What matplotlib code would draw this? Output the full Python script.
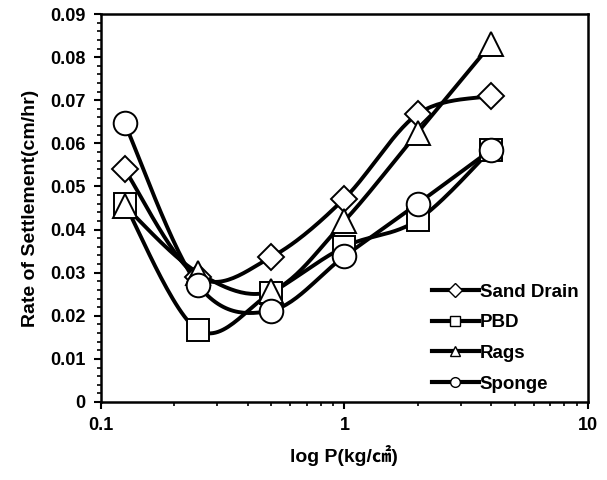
import numpy as np
import matplotlib
matplotlib.use("Agg")
import matplotlib.pyplot as plt
from matplotlib.lines import Line2D
from matplotlib.ticker import MultipleLocator, LogLocator, FixedLocator, FixedFormatter

# data
pressure = [0.125, 0.25, 0.5, 1, 2, 4]
sand_drain = [0.054, 0.029, 0.0336, 0.0472, 0.0668, 0.0710]
pbd = [0.0460, 0.0167, 0.0253, 0.0360, 0.0422, 0.0585]
rags = [0.0455, 0.0300, 0.0257, 0.0420, 0.0625, 0.0830]
sponge = [0.0647, 0.0272, 0.0212, 0.0338, 0.0460, 0.0585]

series = [
    ("Sand Drain", sand_drain, "D", 13),
    ("PBD", pbd, "s", 16),
    ("Rags", rags, "^", 17),
    ("Sponge", sponge, "o", 17),
]

plt.rcParams['font.family'] = ['Liberation Sans', 'DejaVu Sans']
plt.rcParams['font.weight'] = 'bold'

fig = plt.figure(figsize=(6.07, 4.80), dpi=100)
ax = fig.add_axes([0.1664, 0.1625, 0.802, 0.8083])
ax.set_xscale("log")
ax.set_xlim(0.1, 10)
ax.set_ylim(0, 0.09)


def smooth(xs, ys, n=30):
    # catmull-rom in screen space, like a spreadsheet "smoothed line"
    pts = ax.transData.transform(np.column_stack([xs, ys]))
    p = np.vstack([pts[0], pts, pts[-1]])
    out = []
    t = np.linspace(0, 1, n)[:, None]
    for i in range(1, len(p) - 2):
        p0, p1, p2, p3 = p[i - 1], p[i], p[i + 1], p[i + 2]
        c1 = p1 + (p2 - p0) / 6
        c2 = p2 - (p3 - p1) / 6
        seg = ((1 - t) ** 3) * p1 + 3 * ((1 - t) ** 2) * t * c1 + 3 * (1 - t) * t ** 2 * c2 + t ** 3 * p2
        out.append(seg)
    out = np.vstack(out)
    d = ax.transData.inverted().transform(out)
    return d[:, 0], d[:, 1]


for name, vals, mk, ms in series:
    sx, sy = smooth(pressure, vals)
    ax.plot(sx, sy, color="black", lw=2.8, zorder=2)

for name, vals, mk, ms in series:
    ax.plot(pressure, vals, ls="none", marker=mk, ms=ms, mfc="white", mec="black",
            mew=1.4, zorder=3)

handles = [Line2D([], [], color="black", lw=3.0, marker=mk, ms=7, mfc="white",
                  mec="black", mew=1.0) for name, vals, mk, ms in series]
ax.legend(handles, [s[0] for s in series], loc="lower right", frameon=False,
          bbox_to_anchor=(1.0, 0.0), borderaxespad=0.1, handlelength=2.5,
          handletextpad=0.05, labelspacing=0.72, fontsize=13.5)

ax.yaxis.set_major_locator(MultipleLocator(0.01))
ax.yaxis.set_minor_locator(MultipleLocator(0.002))
ax.yaxis.set_major_formatter(plt.FuncFormatter(lambda v, p: "0" if abs(v) < 1e-9 else f"{v:.2f}"))
ax.xaxis.set_major_locator(FixedLocator([0.1, 1, 10]))
ax.xaxis.set_major_formatter(FixedFormatter(["0.1", "1", "10"]))
ax.xaxis.set_minor_locator(LogLocator(base=10, subs=np.arange(2, 10)))
ax.xaxis.set_minor_formatter(plt.NullFormatter())

ax.tick_params(axis="both", which="major", direction="out", length=5, width=1.5,
               labelsize=13, pad=6)
ax.tick_params(axis="both", which="minor", direction="out", length=3, width=1.2)
for s in ax.spines.values():
    s.set_linewidth(1.8)

ax.set_xlabel("log P(kg/㎠)", fontsize=14, fontweight="bold", labelpad=8,
              family=['Liberation Sans', 'Noto Sans CJK JP', 'DejaVu Sans'])
ax.set_ylabel("Rate of Settlement(cm/hr)", fontsize=14, fontweight="bold", labelpad=8)

fig.savefig("out.png", dpi=100)
